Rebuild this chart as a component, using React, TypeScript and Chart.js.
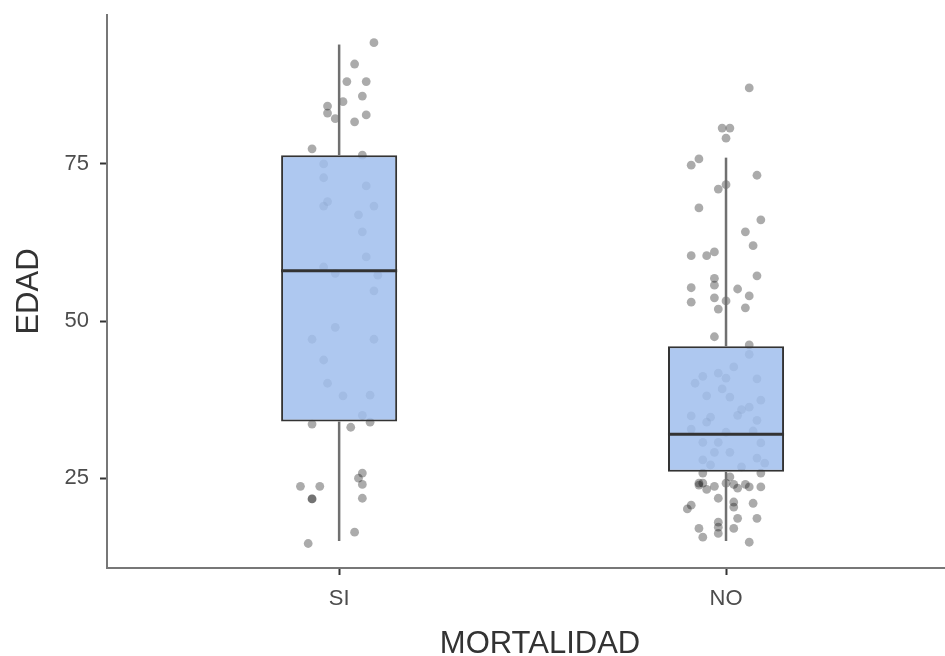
import { useEffect, useRef } from 'react';
import { Chart, registerables } from 'chart.js';

Chart.register(...registerables);

// ---- data ----
const CATEGORIES = ['SI', 'NO'];
const CATEGORY_POSITIONS = [1, 2];
const Y_TICKS = [25, 50, 75];

const WHISKER_LOW = [15, 15];
const Q1 = [34, 26];
const MEDIAN = [58, 32];
const Q3 = [76.4, 46];
const WHISKER_HIGH = [94, 76];

const SI_AGES = [
  94.3, 90.9, 88.1, 88.1, 85.8, 84.9, 84.2, 83.1, 82.2, 81.7, 82.8, 77.4, 76.4, 75.0,
  72.8, 71.5, 69.0, 68.3, 68.3, 66.9, 64.2, 60.2, 58.6, 57.6, 57.3, 54.8, 49.0, 47.1,
  47.1, 43.8, 40.1, 38.1, 38.2, 35.0, 33.9, 33.6, 33.1, 25.8, 25.0, 24.0, 23.7, 23.7,
  21.7, 21.7, 21.8, 16.4, 14.6,
];
const SI_JITTER = [
  0.09, 0.04, 0.02, 0.07, 0.06, 0.01, -0.03, -0.03, -0.01, 0.04, 0.07, -0.07, 0.06, -0.04,
  -0.04, 0.07, -0.03, -0.04, 0.09, 0.05, 0.06, 0.07, -0.04, -0.01, 0.10, 0.09, -0.01, -0.07,
  0.09, -0.04, -0.03, 0.01, 0.08, 0.06, 0.08, -0.07, 0.03, 0.06, 0.05, 0.06, -0.10, -0.05,
  -0.07, -0.07, 0.06, 0.04, -0.08,
];

const NO_AGES = [
  87.1, 80.7, 80.7, 79.1, 75.8, 74.8, 73.2, 71.0, 71.7, 68.0, 66.1, 64.2, 62.0, 60.4,
  60.4, 61.0, 57.2, 56.8, 55.7, 55.3, 55.1, 54.0, 53.0, 53.7, 53.2, 52.1, 51.9, 47.5,
  46.2, 44.7, 42.7, 41.2, 41.7, 40.9, 40.8, 40.1, 39.2, 38.1, 37.9, 37.4, 36.3, 35.9,
  34.9, 34.7, 33.9, 35.0, 34.2, 32.8, 32.3, 32.5, 30.7, 30.7, 30.6, 29.1, 29.1, 27.9,
  28.2, 27.4, 27.1, 26.8, 25.8, 25.8, 25.2, 24.2, 24.2, 23.9, 23.2, 23.7, 24.2, 24.0,
  23.4, 24.0, 23.6, 23.6, 21.8, 21.2, 20.4, 21.0, 20.7, 20.1, 18.6, 18.6, 18.0, 17.0,
  17.2, 17.0, 16.2, 15.6, 14.8,
];
const NO_JITTER = [
  0.06, -0.01, 0.01, 0.0, -0.07, -0.09, 0.08, -0.02, 0.0, -0.07, 0.09, 0.05, 0.07, -0.09,
  -0.05, -0.03, 0.08, -0.03, -0.03, -0.09, 0.03, 0.06, -0.09, -0.03, 0.0, 0.05, -0.02, -0.03,
  0.06, 0.06, 0.02, -0.06, -0.02, 0.0, 0.08, -0.08, -0.01, -0.05, 0.01, 0.09, 0.06, 0.04,
  -0.09, -0.04, -0.05, 0.03, 0.08, -0.09, 0.0, 0.07, -0.06, -0.02, 0.09, -0.03, 0.01, -0.06,
  0.08, 0.10, -0.04, 0.04, -0.06, 0.09, 0.01, -0.07, -0.06, -0.07, -0.05, -0.03, 0.0, 0.02,
  0.03, 0.05, 0.06, 0.09, -0.02, 0.02, 0.02, 0.07, -0.09, -0.10, 0.03, 0.08, -0.02, -0.07,
  -0.02, 0.02, -0.02, -0.06, 0.06,
];

const X_TITLE = 'MORTALIDAD';
const Y_TITLE = 'EDAD';

// ---- styles ----
const FONT = '"Liberation Sans", Arial, sans-serif';
const BOX_WIDTH = 0.3;
const BOX_FILL = 'rgba(160,190,237,0.85)';
const BOX_LINE = '#333333';
const WHISKER_COLOR = '#707070';
const POINT_COLOR = 'rgba(0,0,0,0.33)';

const xTitlePlugin = {
  id: 'xTitle',
  afterDraw(chart: any) {
    const ctx = chart.ctx;
    ctx.save();
    ctx.font = `31px ${FONT}`;
    ctx.fillStyle = '#333333';
    ctx.textAlign = 'center';
    ctx.textBaseline = 'middle';
    ctx.fillText(X_TITLE, 540, 644);
    ctx.restore();
  },
};

export default function App() {
  const ref = useRef<HTMLCanvasElement | null>(null);

  useEffect(() => {
    document.body.style.margin = '0';
    if (!ref.current) return;

    const pointData = [
      ...SI_AGES.map((a, i) => ({ x: CATEGORY_POSITIONS[0] + SI_JITTER[i], y: a })),
      ...NO_AGES.map((a, i) => ({ x: CATEGORY_POSITIONS[1] + NO_JITTER[i], y: a })),
    ];

    const datasets: any[] = [];
    datasets.push({
      type: 'scatter',
      data: pointData,
      pointRadius: 4.4,
      pointBackgroundColor: POINT_COLOR,
      pointBorderWidth: 0,
      order: 4,
    });

    CATEGORY_POSITIONS.forEach((pos, i) => {
      datasets.push({
        type: 'line',
        data: [
          { x: pos, y: Q3[i] },
          { x: pos, y: WHISKER_HIGH[i] },
        ],
        borderColor: WHISKER_COLOR,
        borderWidth: 2.5,
        pointRadius: 0,
        borderCapStyle: 'butt',
        order: 3,
      });
      datasets.push({
        type: 'line',
        data: [
          { x: pos, y: WHISKER_LOW[i] },
          { x: pos, y: Q1[i] },
        ],
        borderColor: WHISKER_COLOR,
        borderWidth: 2.5,
        pointRadius: 0,
        borderCapStyle: 'butt',
        order: 3,
      });
    });

    datasets.push({
      type: 'bar',
      data: CATEGORY_POSITIONS.map((pos, i) => ({ x: pos, y: [Q1[i], Q3[i]] })),
      backgroundColor: BOX_FILL,
      borderColor: BOX_LINE,
      borderWidth: 2,
      borderSkipped: false,
      barPercentage: BOX_WIDTH,
      categoryPercentage: 1,
      order: 2,
    });

    CATEGORY_POSITIONS.forEach((pos, i) => {
      datasets.push({
        type: 'line',
        data: [
          { x: pos - BOX_WIDTH / 2, y: MEDIAN[i] },
          { x: pos + BOX_WIDTH / 2, y: MEDIAN[i] },
        ],
        borderColor: BOX_LINE,
        borderWidth: 3,
        pointRadius: 0,
        borderCapStyle: 'butt',
        order: 1,
      });
    });

    const chart = new Chart(ref.current, {
      type: 'bar',
      data: { datasets },
      plugins: [xTitlePlugin],
      options: {
        animation: false,
        responsive: false,
        devicePixelRatio: 1,
        layout: { autoPadding: false, padding: { top: 15, right: 0, left: 0, bottom: 0 } },
        plugins: { legend: { display: false }, tooltip: { enabled: false } },
        scales: {
          x: {
            type: 'linear',
            min: 0.4,
            max: 2.566,
            offset: false,
            afterBuildTicks: (scale: any) => {
              scale.ticks = CATEGORY_POSITIONS.map((v) => ({ value: v }));
            },
            afterFit: (scale: any) => {
              scale.height = 88;
              scale.paddingLeft = 0;
              scale.paddingRight = 0;
            },
            ticks: {
              callback: (v: any) => CATEGORIES[CATEGORY_POSITIONS.indexOf(Number(v))] ?? '',
              color: '#4d4d4d',
              font: { family: FONT, size: 22 },
              padding: 11,
              maxRotation: 0,
              autoSkip: false,
            },
            grid: {
              display: true,
              drawOnChartArea: false,
              drawTicks: true,
              tickLength: 7,
              tickWidth: 2,
              tickColor: '#333333',
              offset: false,
            },
            border: { display: true, color: '#777777', width: 2 },
          },
          y: {
            type: 'linear',
            min: 10.7,
            max: 98.7,
            beginAtZero: false,
            afterBuildTicks: (scale: any) => {
              scale.ticks = Y_TICKS.map((v) => ({ value: v }));
            },
            afterFit: (scale: any) => {
              scale.width = 107;
              scale.paddingTop = 0;
              scale.paddingBottom = 0;
            },
            ticks: {
              color: '#4d4d4d',
              font: { family: FONT, size: 22 },
              padding: 11,
            },
            grid: {
              display: true,
              drawOnChartArea: false,
              drawTicks: true,
              tickLength: 7,
              tickWidth: 2,
              tickColor: '#333333',
            },
            border: { display: true, color: '#777777', width: 2 },
            title: {
              display: true,
              text: Y_TITLE,
              color: '#333333',
              font: { family: FONT, size: 31, lineHeight: 0.774 },
              padding: { top: 17, bottom: 0 },
            },
          },
        },
      },
    });

    return () => chart.destroy();
  }, []);

  return (
    <div style={{ width: 945, height: 656 }}>
      <canvas ref={ref} width={945} height={656} />
    </div>
  );
}
